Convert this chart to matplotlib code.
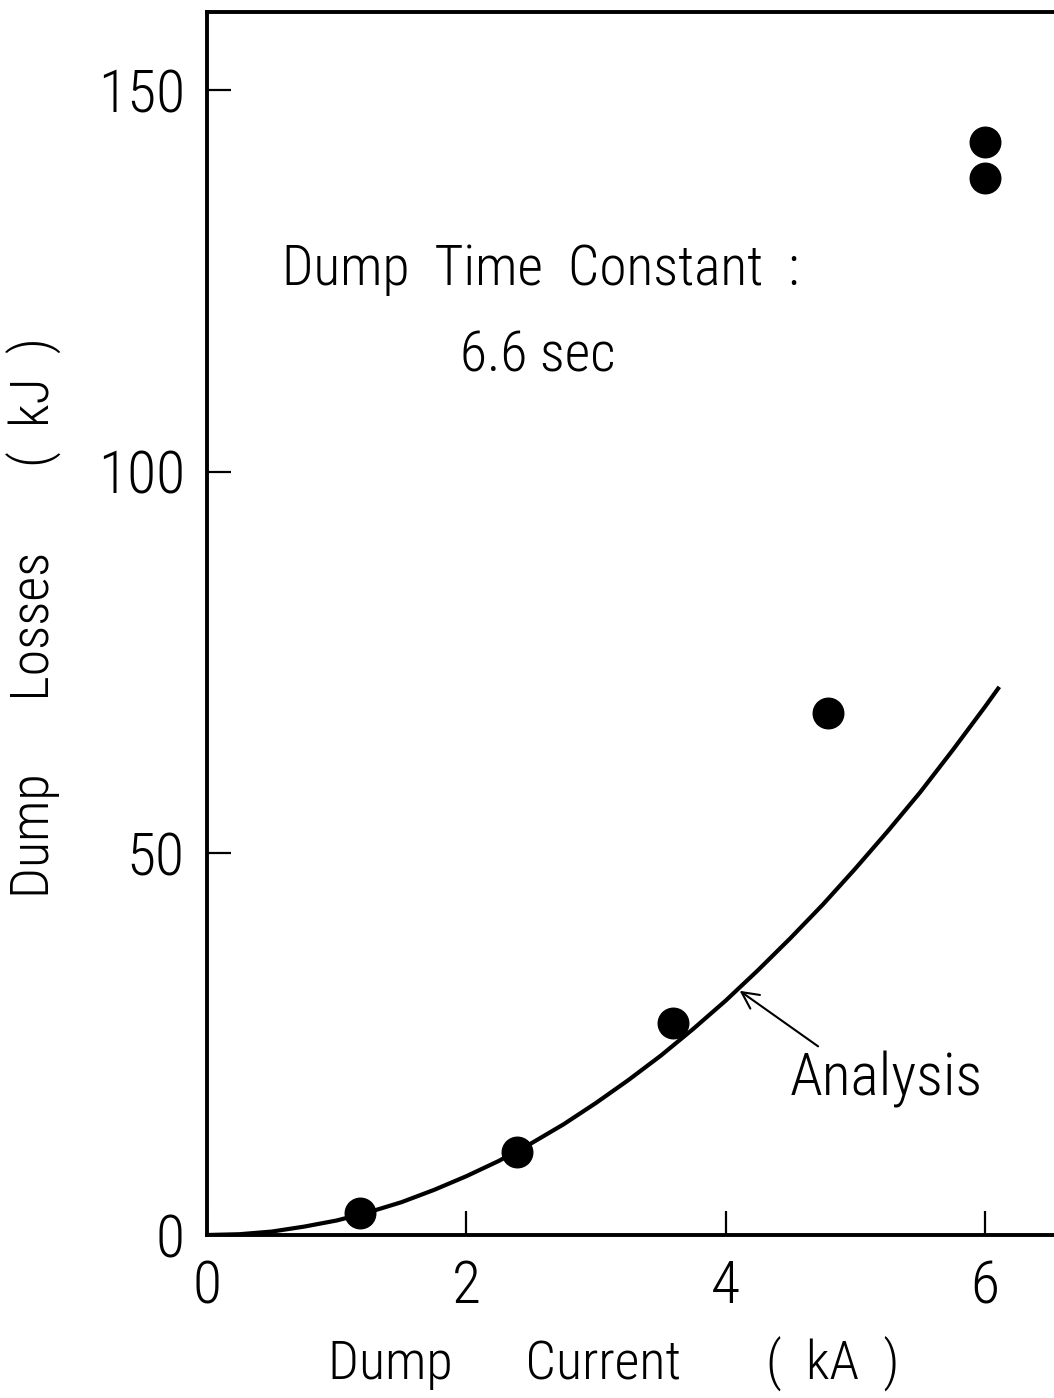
import matplotlib
matplotlib.use("Agg")
import matplotlib.pyplot as plt

# measured dump losses (kA, kJ)
current_meas = [1.18, 2.39, 3.59, 4.79, 6.0, 6.0]
losses_meas = [2.9, 10.9, 27.8, 68.4, 143.2, 138.5]

# analysis curve
current_calc = [0.0, 0.25, 0.5, 0.75, 1.0, 1.25, 1.5, 1.75, 2.0, 2.25, 2.5,
                2.75, 3.0, 3.25, 3.5, 3.75, 4.0, 4.25, 4.5, 4.75, 5.0, 5.25,
                5.5, 5.75, 6.0, 6.11]
losses_calc = [0.0, 0.1, 0.45, 1.1, 1.9, 3.0, 4.3, 5.9, 7.7, 9.7, 12.0,
               14.5, 17.3, 20.3, 23.5, 27.0, 30.7, 34.7, 38.9, 43.3, 48.0,
               52.9, 58.0, 63.5, 69.2, 71.8]

xticks = [0, 2, 4, 6]
yticks = [0, 50, 100, 150]

plt.rcParams["font.family"] = ["Roboto Condensed", "Liberation Sans Narrow",
                               "Roboto", "DejaVu Sans"]
plt.rcParams["font.weight"] = "light"
plt.rcParams["axes.labelweight"] = "light"

fig = plt.figure(figsize=(10.54, 13.98), dpi=100)
ax = fig.add_axes([0.1964, 0.1166, 0.812, 0.8748])

ax.plot(current_calc, losses_calc, color="black", linewidth=3.0,
        solid_capstyle="butt")
ax.plot(current_meas, losses_meas, "o", color="black", markersize=22)

ax.annotate("", xy=(4.09, 32.2), xytext=(4.73, 24.5),
            arrowprops=dict(arrowstyle="->", color="black", lw=1.5,
                            mutation_scale=30))
ax.text(5.24, 20.4, "Analysis", fontsize=43, ha="center", va="center")
ax.text(2.57, 126.5, "Dump  Time  Constant  :", fontsize=40,
        ha="center", va="center")
ax.text(2.55, 115.2, "6.6 sec", fontsize=40, ha="center", va="center")

ax.set_xlim(0, 6.6)
ax.set_ylim(0, 160.2)
ax.set_xticks(xticks)
ax.set_yticks(yticks)
ax.tick_params(direction="in", length=17, width=1.6, labelsize=43,
               pad=17, top=False, right=False)
ax.tick_params(axis="y", pad=16)
for s in ax.spines.values():
    s.set_linewidth(2.8)

ax.set_xlabel("Dump      Current       (  kA  )", fontsize=39)
ax.set_ylabel("Dump      Losses       (  kJ  )", fontsize=39)
ax.xaxis.set_label_coords(0.475, -0.083)
ax.yaxis.set_label_coords(-0.170, 0.505)

fig.savefig("out.png", dpi=100)
